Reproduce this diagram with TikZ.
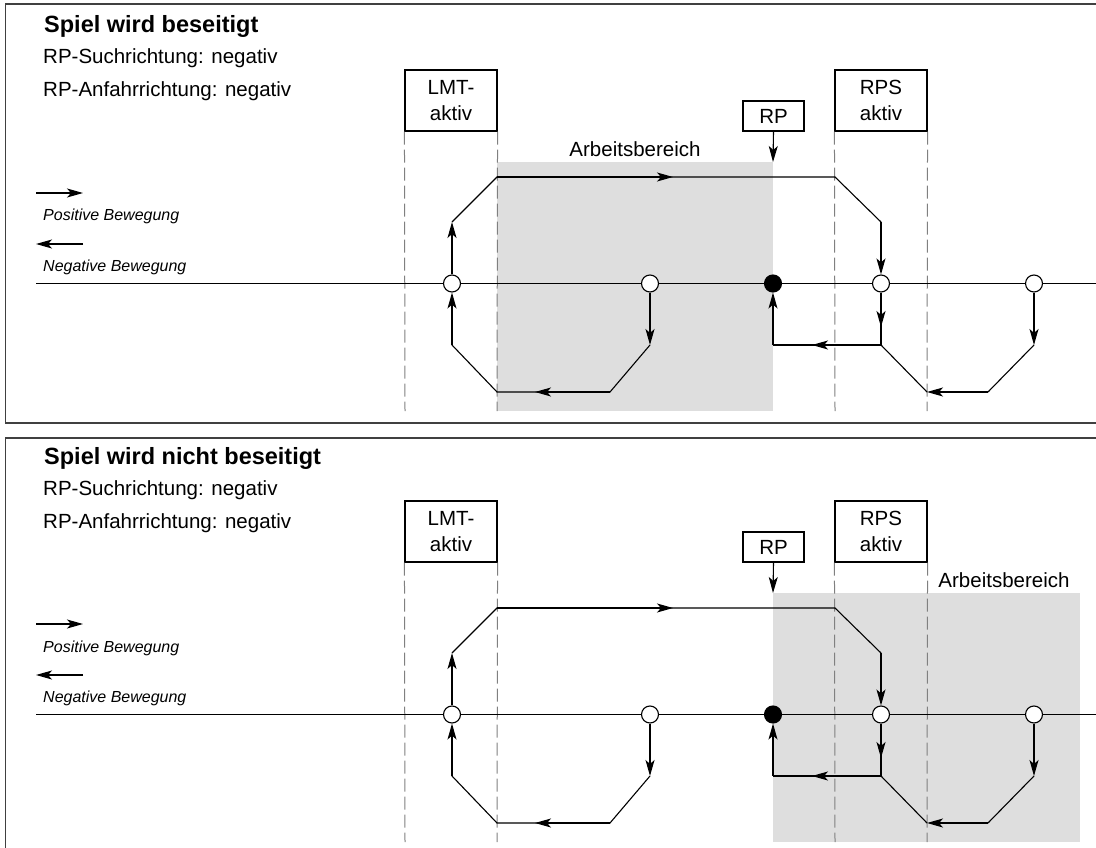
\documentclass[tikz,border=0pt]{standalone}
\usepackage{fontspec}
\setmainfont{Liberation Sans}
\usetikzlibrary{arrows.meta}
\newcommand\drawpanel[6]{%
\begin{scope}[shift={(0,#2)}]
  % working area
  \fill[workfill] (#4,162) rectangle (#5,411);
  \node[lbl, anchor=center] (#1wa) at (#6,149) {Arbeitsbereich};
  % texts
  \node[titletxt] (#1title) at (44,33) {#3};
  \node[lbl] (#1such) at (43,64) {RP-Suchrichtung: negativ};
  \node[lbl] (#1anf) at (43,97) {RP-Anfahrrichtung: negativ};
  % legend
  \coordinate (#1lp1) at (36,193); \coordinate (#1lp2) at (83,193);
  \draw[arr] (#1lp1) -- (#1lp2);
  \node[legtxt] (#1pos) at (43,221) {Positive Bewegung};
  \coordinate (#1ln1) at (83,244); \coordinate (#1ln2) at (36,244);
  \draw[arr] (#1ln1) -- (#1ln2);
  \node[legtxt] (#1neg) at (43,271) {Negative Bewegung};
  % boxes
  \node[bigbox] (#1lmt) at (451,100.5) {LMT-\\aktiv};
  \node[bigbox] (#1rps) at (881,100.5) {RPS\\aktiv};
  \node[rpbox] (#1rp) at (773.5,116) {RP};
  % dashed lines
  \coordinate (#1e1) at (405,411); \coordinate (#1e2) at (497,411);
  \coordinate (#1e3) at (835,411); \coordinate (#1e4) at (927,411);
  \draw[dashln] (#1lmt.south west) -- (#1e1);
  \draw[dashln] (#1lmt.south east) -- (#1e2);
  \draw[dashln] (#1rps.south west) -- (#1e3);
  \draw[dashln] (#1rps.south east) -- (#1e4);
  % RP arrow
  \coordinate (#1rpt) at (773,162);
  \draw[arr] (#1rp.south) -- (#1rpt);
  % axis
  \coordinate (#1axl) at (36,283.5); \coordinate (#1axr) at (1096,283.5);
  \draw[ln] (#1axl) -- (#1axr);
  % path corner points
  \coordinate (#1A) at (497,177); \coordinate (#1B) at (835,177);
  \coordinate (#1C) at (452,222); \coordinate (#1D) at (881,222);
  \coordinate (#1E) at (650,345); \coordinate (#1F) at (610,392);
  \coordinate (#1G) at (497,392); \coordinate (#1H) at (452,345);
  \coordinate (#1I) at (881,345); \coordinate (#1J) at (773,345);
  \coordinate (#1K) at (927,392); \coordinate (#1L) at (988,392);
  \coordinate (#1M) at (1034,345);
  \coordinate (#1ma) at (673,177); \coordinate (#1mg) at (535,392);
  \coordinate (#1mi) at (881,327); \coordinate (#1mj) at (812,345);
  % circles
  \node[ocirc] (#1c1) at (452,283.5) {};
  \node[ocirc] (#1c2) at (650,283.5) {};
  \node[fcirc] (#1c3) at (773,283.5) {};
  \node[ocirc] (#1c4) at (881,283.5) {};
  \node[ocirc] (#1c5) at (1034,283.5) {};
  % paths
  \draw[ln] (#1C) -- (#1A) -- (#1B) -- (#1D);
  \draw[arr] (#1A) -- (#1ma);
  \draw[arr] (#1c1) -- (#1C);
  \draw[arr] (#1D) -- (#1c4);
  \draw[arr] (#1c2) -- (#1E);
  \draw[ln] (#1E) -- (#1F) -- (#1G) -- (#1H);
  \draw[arr] (#1F) -- (#1mg);
  \draw[arr] (#1H) -- (#1c1);
  \draw[ln] (#1c4) -- (#1I);
  \draw[arr] (#1c4) -- (#1mi);
  \draw[ln] (#1I) -- (#1J);
  \draw[arr] (#1I) -- (#1mj);
  \draw[arr] (#1J) -- (#1c3);
  \draw[ln] (#1I) -- (#1K);
  \draw[arr] (#1L) -- (#1K);
  \draw[ln] (#1L) -- (#1M);
  \draw[arr] (#1c5) -- (#1M);
\end{scope}}
\begin{document}
\begin{tikzpicture}[x=1pt,y=-1pt,
  ln/.style={line width=1.1pt},
  arr/.style={line width=1.1pt,-{Stealth[length=16pt,width=9pt,inset=4pt]}},
  dashln/.style={draw=black!50, line width=1pt, dash pattern=on 13pt off 5pt},
  workfill/.style={fill=black!13},
  lbl/.style={anchor=base west, inner sep=0pt, font=\fontsize{20.5}{26}\selectfont},
  titletxt/.style={anchor=base west, inner sep=0pt, font=\bfseries\fontsize{23.5}{28}\selectfont},
  legtxt/.style={anchor=base west, inner sep=0pt, font=\itshape\fontsize{16}{19}\selectfont},
  bigbox/.style={draw, line width=1.1pt, minimum width=92pt, minimum height=61pt, inner sep=0pt, align=center, font=\fontsize{20.5}{26}\selectfont},
  rpbox/.style={draw, line width=1.1pt, minimum width=61pt, minimum height=30pt, inner sep=0pt, font=\fontsize{20.5}{26}\selectfont},
  ocirc/.style={circle, draw, line width=1.1pt, fill=white, minimum size=17pt, inner sep=0pt},
  fcirc/.style={circle, draw, line width=1.1pt, fill=black, minimum size=17pt, inner sep=0pt},
  frame/.style={draw=black!75, line width=1.3pt}]
\useasboundingbox (0,0) rectangle (1096,848);
% frames
\coordinate (f1a) at (1096,4); \coordinate (f1b) at (5.5,4);
\coordinate (f1c) at (5.5,423); \coordinate (f1d) at (1096,423);
\draw[frame] (f1a) -- (f1b) -- (f1c) -- (f1d);
\coordinate (f2a) at (1096,438); \coordinate (f2b) at (5.5,438);
\coordinate (f2c) at (5.5,850);
\draw[frame] (f2a) -- (f2b) -- (f2c);
\drawpanel{t}{0}{Spiel wird beseitigt}{497}{773}{635}
\drawpanel{b}{431}{Spiel wird nicht beseitigt}{773}{1080}{1004}
\end{tikzpicture}
\end{document}
